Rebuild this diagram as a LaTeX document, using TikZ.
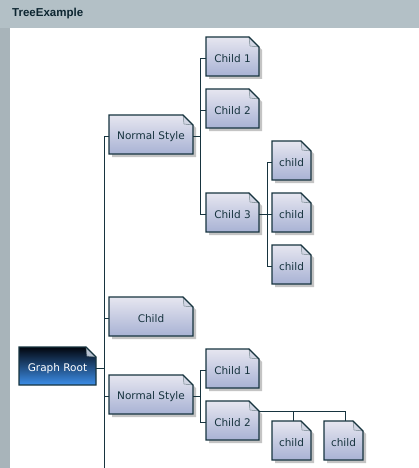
\documentclass[tikz,border=0pt]{standalone}
\usepackage{fontspec}
\setmainfont{DejaVu Sans}
\newfontfamily\titlefont{Liberation Sans}
\usetikzlibrary{calc}
\definecolor{barc}{HTML}{B3C0C6}
\definecolor{stripc}{HTML}{A8B4BA}
\definecolor{titlec}{HTML}{0C2530}
\definecolor{edgec}{HTML}{17343F}
\definecolor{ntop}{HTML}{E6E6F0}
\definecolor{nbot}{HTML}{A8B2D4}
\definecolor{flapc}{HTML}{D2D6E4}
\definecolor{shadowc}{HTML}{C4C4C4}
\definecolor{rtop}{HTML}{02060E}
\definecolor{rmid}{HTML}{0B2449}
\definecolor{rbot}{HTML}{3D8FEA}
\definecolor{rflap}{HTML}{B8C2D2}
\tikzset{
  noteanchor/.style={draw=none, inner sep=0pt, outer sep=0pt},
  notebd/.style={draw=edgec, line width=1.2pt, line join=miter},
  notetext/.style={font=\fontsize{10.5}{12}\selectfont, text=edgec, inner sep=0pt},
  roottext/.style={font=\fontsize{10.5}{12}\selectfont, text=white, inner sep=0pt},
  conn/.style={draw=edgec, line width=1pt},
}
\newcommand\mynotepath[3]{([xshift=#2,yshift=#3]#1.north west) -- ([xshift=#2-10pt,yshift=#3]#1.north east) -- ([xshift=#2,yshift=#3-10pt]#1.north east) -- ([xshift=#2,yshift=#3]#1.south east) -- ([xshift=#2,yshift=#3]#1.south west) -- cycle}
\newcommand\mynotebox[6]{%
  \node[noteanchor, minimum width={#4-#2}, minimum height={#5-#3}] (#1) at ({(#2+#4)/2},{(#3+#5)/2}) {};
  \fill[shadowc] \mynotepath{#1}{3pt}{-3pt};
  \shade[top color=ntop, bottom color=nbot] \mynotepath{#1}{0pt}{0pt};
  \fill[flapc, draw=edgec!60, line width=0.5pt] ([xshift=-10pt]#1.north east) -- ([xshift=-9pt,yshift=-9pt]#1.north east) -- ([yshift=-10pt]#1.north east) -- cycle;
  \draw[notebd] \mynotepath{#1}{0pt}{0pt};
  \node[notetext] at ([yshift=-2.5pt]#1.center) {#6};
}
\newcommand\myrootnote[6]{%
  \node[noteanchor, minimum width={#4-#2}, minimum height={#5-#3}] (#1) at ({(#2+#4)/2},{(#3+#5)/2}) {};
  \shade[top color=rtop, middle color=rmid, bottom color=rbot] \mynotepath{#1}{0pt}{0pt};
  \fill[rflap, draw=edgec!60, line width=0.5pt] ([xshift=-10pt]#1.north east) -- ([xshift=-9pt,yshift=-9pt]#1.north east) -- ([yshift=-10pt]#1.north east) -- cycle;
  \draw[notebd] \mynotepath{#1}{0pt}{0pt};
  \node[roottext] at ([yshift=-2.5pt]#1.center) {#6};
}
\begin{document}
\begin{tikzpicture}[x=1pt, y=-1pt]
\useasboundingbox (0,0) rectangle (419,468);
\fill[white] (0,0) rectangle (419,468);
\fill[barc] (0,0) rectangle (419,28);
\fill[stripc] (0,28) rectangle (10,468);
\node[anchor=base west, inner sep=0pt, font=\titlefont\bfseries\fontsize{11.5}{13}\selectfont, text=titlec] (title) at (12,17) {TreeExample};

% nodes
\myrootnote{root}{19}{347}{96}{385}{Graph Root}
\mynotebox{ns1}{109}{115}{193}{154}{Normal Style}
\mynotebox{c1a}{206}{37}{259}{76}{Child 1}
\mynotebox{c1b}{206}{89}{259}{128}{Child 2}
\mynotebox{c1c}{206}{193}{259}{232}{Child 3}
\mynotebox{g1}{272}{141}{311}{180}{child}
\mynotebox{g2}{272}{193}{311}{232}{child}
\mynotebox{g3}{272}{245}{311}{284}{child}
\mynotebox{chd}{109}{297}{193}{336}{Child}
\mynotebox{ns2}{109}{375}{193}{414}{Normal Style}
\mynotebox{c2a}{206}{349}{259}{388}{Child 1}
\mynotebox{c2b}{206}{401}{259}{440}{Child 2}
\mynotebox{h1}{272}{421}{311}{460}{child}
\mynotebox{h2}{324}{421}{363}{460}{child}

% connectors
\coordinate (trunkend) at (104,470);
\draw[conn] ([yshift=-1.5pt]ns1.west) -- ++(-5,0) -- (trunkend);
\draw[conn] ([yshift=-2pt]root.east) -- ++(8,0);
\draw[conn] ([yshift=-2pt]chd.west) -- ++(-5,0);
\draw[conn] ([yshift=-2pt]ns2.west) -- ++(-5,0);

\draw[conn] ([yshift=-1.5pt]ns1.east) -- ++(7,0);
\draw[conn] ([yshift=-2pt]c1a.west) -- ++(-6,0) |- ([yshift=-2pt]c1c.west);
\draw[conn] ([yshift=-2pt]c1b.west) -- ++(-6,0);

\draw[conn] ([yshift=-2pt]c1c.east) -- ++(8,0);
\draw[conn] ([yshift=-2pt]g1.west) -- ++(-5,0) |- ([yshift=-2pt]g3.west);
\draw[conn] ([yshift=-2pt]g2.west) -- ++(-5,0);

\draw[conn] ([yshift=-2pt]ns2.east) -- ++(7,0);
\draw[conn] ([yshift=-2pt]c2a.west) -- ++(-6,0) |- ([yshift=-2pt]c2b.west);

\draw[conn] ([yshift=-10pt]c2b.north east) -| ([xshift=1.5pt]h2.north);
\draw[conn] ([xshift=1.5pt]h1.north) -- ++(0,-10);
\end{tikzpicture}
\end{document}
